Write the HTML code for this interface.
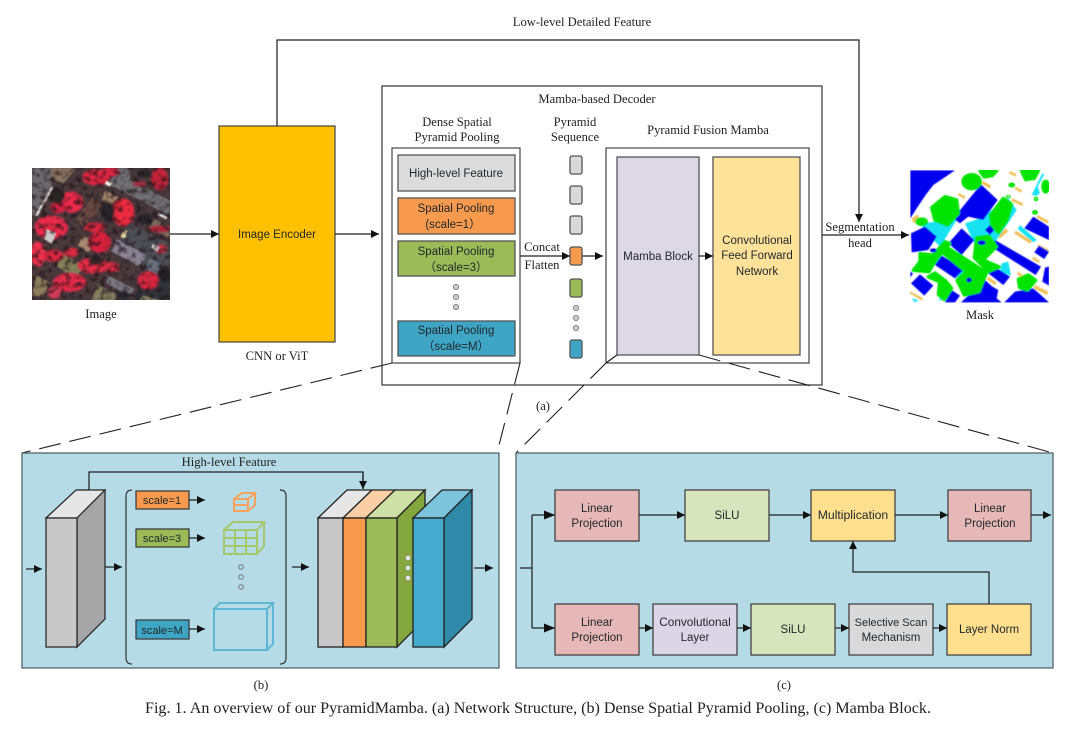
<!DOCTYPE html>
<html><head><meta charset="utf-8">
<style>
html,body{margin:0;padding:0;background:#fff;width:1080px;height:732px;overflow:hidden}
svg{display:block;filter:blur(.3px)}
.s{font-family:"Liberation Serif",serif;font-size:12.6px;fill:#222;text-anchor:middle}
.c{font-family:"Liberation Sans","Noto Sans CJK SC",sans-serif;font-size:11.5px;fill:#22282c;text-anchor:middle}
.l{stroke:#222;stroke-width:1.25;fill:none}
.b{stroke:#555;stroke-width:1.3}
</style></head><body>
<svg width="1080" height="732" viewBox="0 0 1080 732" xmlns="http://www.w3.org/2000/svg">
<defs>
<marker id="a" markerUnits="userSpaceOnUse" markerWidth="10" markerHeight="10" refX="8" refY="4" orient="auto"><path d="M0 0L8 4L0 8z" fill="#111"/></marker>
<marker id="m" markerUnits="userSpaceOnUse" markerWidth="12" markerHeight="10" refX="11" refY="4.5" orient="auto"><path d="M0 0L11 4.5L0 9z" fill="#111"/></marker>
<filter id="sb"><feGaussianBlur stdDeviation="1.4"/></filter>
<filter id="rb"><feGaussianBlur stdDeviation="3"/></filter>
<filter id="spk" x="0" y="0" width="100%" height="100%" color-interpolation-filters="sRGB"><feTurbulence type="fractalNoise" baseFrequency=".17" numOctaves="2" seed="11"/><feColorMatrix values="0 0 0 0 .12 0 0 0 0 .08 0 0 0 0 .1 3.4 0 0 0 -1.55"/><feGaussianBlur stdDeviation=".5"/></filter>
<clipPath id="ci"><rect x="32" y="168" width="138" height="132"/></clipPath>
<clipPath id="cm"><rect x="910" y="170" width="139" height="133"/></clipPath>
</defs>

<!-- aerial image -->
<g clip-path="url(#ci)">
<rect x="32" y="168" width="138" height="132" fill="#4a3a3e"/>
<g transform="translate(28 164) scale(.3333)">
<g filter="url(#sb)">
<polygon points="12,12 70,12 70,70 40,130 12,155" fill="#6d6b6e"/>
<polygon points="70,12 145,12 105,60 70,40" fill="#8a7361"/>
<polygon points="270,12 300,12 310,50 425,110 425,155 240,60" fill="#6f6f73"/>
<polygon points="300,175 425,240 425,300 360,320 270,240" fill="#4e4f54"/>
<polygon points="265,225 360,275 330,305 250,262" fill="#8a8394"/>
<polygon points="365,285 405,300 385,330 350,315" fill="#6b7180"/>
<polygon points="232,80 272,100 240,130 220,110" fill="#a28468"/>
<polygon points="195,100 225,125 165,190 145,160" fill="#6b4c42"/>
<polygon points="165,215 205,235 180,265 150,245" fill="#a98a72"/>
<polygon points="105,270 170,305 140,345 85,305" fill="#83805a"/>
<polygon points="25,335 65,355 45,400 12,395" fill="#8e7e5c"/>
<polygon points="210,360 270,395 255,410 190,410" fill="#85805f"/>
<polygon points="240,335 320,375 300,400 235,355" fill="#77747f"/>
<polygon points="340,340 425,345 425,410 320,410" fill="#33353a"/>
<polygon points="380,165 425,190 425,225 360,190" fill="#7a6a5c"/>
<polygon points="345,395 400,410 335,410" fill="#8a8066"/>
</g>
<g filter="url(#rb)">
<ellipse cx="130" cy="115" rx="36" ry="32" fill="#ee2b4c"/>
<ellipse cx="90" cy="130" rx="22" ry="18" fill="#d9233f"/>
<ellipse cx="205" cy="40" rx="42" ry="24" fill="#e2263f"/>
<ellipse cx="245" cy="24" rx="30" ry="14" fill="#dc2540"/>
<ellipse cx="285" cy="145" rx="34" ry="42" fill="#ee2b3f"/>
<ellipse cx="395" cy="45" rx="26" ry="34" fill="#c22238"/>
<ellipse cx="70" cy="190" rx="50" ry="36" fill="#ea2c4a"/>
<ellipse cx="30" cy="270" rx="22" ry="38" fill="#ef3050"/>
<ellipse cx="75" cy="275" rx="32" ry="18" fill="#d9283f"/>
<ellipse cx="130" cy="265" rx="22" ry="14" fill="#e02a42"/>
<ellipse cx="215" cy="235" rx="34" ry="32" fill="#d8243c"/>
<ellipse cx="195" cy="305" rx="46" ry="24" fill="#e52a44"/>
<ellipse cx="125" cy="355" rx="50" ry="28" fill="#e62c48"/>
<ellipse cx="80" cy="385" rx="20" ry="20" fill="#d23a52"/>
<ellipse cx="200" cy="190" rx="32" ry="15" fill="#da283f"/>
<ellipse cx="360" cy="350" rx="32" ry="28" fill="#da2840"/>
<ellipse cx="395" cy="195" rx="32" ry="10" fill="#b0233a"/>
<ellipse cx="400" cy="255" rx="18" ry="14" fill="#c83448"/>
<ellipse cx="250" cy="310" rx="24" ry="16" fill="#dc2a42"/>
<ellipse cx="335" cy="60" rx="22" ry="8" fill="#a82a3c"/>
<ellipse cx="85" cy="95" rx="26" ry="24" fill="#2c2628"/>
<ellipse cx="240" cy="145" rx="20" ry="30" fill="#26282a"/>
<ellipse cx="205" cy="290" rx="24" ry="14" fill="#33272a"/>
<ellipse cx="350" cy="165" rx="24" ry="16" fill="#26272a"/>
<ellipse cx="410" cy="330" rx="18" ry="24" fill="#222326"/>
<ellipse cx="285" cy="395" rx="22" ry="12" fill="#26282a"/>
<ellipse cx="350" cy="28" rx="24" ry="14" fill="#2a2a2c"/>
</g>
<g filter="url(#sb)">
<polygon points="55,195 85,208 72,240 48,225" fill="#cfcaca"/>
<polygon points="235,50 252,58 245,68 230,60" fill="#f2eee6"/>
<polygon points="20,155 70,68 76,72 28,158" fill="#e4e0dc"/>
<polygon points="392,145 420,158 414,166 388,152" fill="#e8e4e4"/>
<polygon points="283,205 298,198 292,222 278,220" fill="#e6d9a0"/>
<polygon points="375,240 395,250 388,262 370,250" fill="#eee"/>
</g>
</g>
<rect x="32" y="168" width="138" height="132" filter="url(#spk)" opacity=".7"/>
</g>

<!-- mask -->
<g clip-path="url(#cm)">
<rect x="910" y="170" width="139" height="133" fill="#fff"/>
<g transform="translate(905 165) scale(.3333)">
<g filter="url(#sb)">
<g fill="#f0c25a"><polygon points="235,48 258,62 254,70 230,56"/><polygon points="162,84 182,95 178,102 158,90"/><polygon points="315,18 335,27 331,35 311,25"/><polygon points="332,65 352,76 347,83 328,71"/><polygon points="322,100 355,115 351,123 318,107"/><polygon points="398,150 432,168 428,176 394,158"/><polygon points="332,197 382,228 375,236 328,206"/><polygon points="278,205 305,190 309,200 283,222"/><polygon points="20,160 38,148 42,158 26,176"/><polygon points="14,378 55,400 50,406 12,384"/><polygon points="390,360 430,380 426,390 386,370"/><polygon points="385,275 405,288 401,294 381,282"/><polygon points="250,335 275,352 270,360 245,344"/><polygon points="252,380 275,395 270,402 248,388"/><polygon points="340,320 360,335 355,340 336,328"/><polygon points="400,238 432,255 430,262 396,245"/></g>
<g fill="#12e2f2"><polygon points="180,175 225,160 310,100 335,135 275,225 210,240"/><polygon points="45,175 155,165 105,245 65,205"/><polygon points="95,265 235,345 215,372 85,290"/><polygon points="290,295 310,290 318,332 285,322"/><polygon points="380,90 412,25 418,28 398,65 405,85 395,92"/><polygon points="20,400 40,405 30,412"/><polygon points="345,180 395,225 385,232 338,192"/><polygon points="100,375 120,385 105,410"/></g>
<g fill="#0000ee">
<polygon points="16,16 150,16 85,60 62,90 35,130 16,160"/>
<polygon points="145,160 228,58 278,105 235,165 190,155 165,175"/>
<polygon points="18,205 60,185 95,215 70,255 20,262"/>
<polygon points="130,235 170,190 208,225 170,270"/>
<polygon points="90,300 110,272 178,312 150,340"/>
<polygon points="18,355 45,328 85,362 58,392"/>
<polygon points="258,245 270,225 408,305 392,330"/>
<polygon points="358,190 385,155 432,185 432,225"/>
<polygon points="388,262 402,242 432,260 418,282"/>
<polygon points="250,325 272,307 315,335 295,360"/>
<polygon points="168,412 240,345 262,365 280,375 275,400 290,412"/>
<polygon points="298,412 330,380 385,370 432,412"/>
<polygon points="120,412 140,375 165,392 150,412"/>
<polygon points="420,308 432,305 432,362 412,350"/>
<polygon points="240,195 255,180 268,195 255,210"/>
<polygon points="16,320 24,325 16,338"/>
</g>
<g fill="#00e400" stroke="#00e400" stroke-width="10" stroke-linejoin="round">
<ellipse cx="200" cy="50" rx="26" ry="21"/><polygon points="225,18 275,18 262,32 238,36"/><polygon points="350,18 400,18 388,40 362,44"/><ellipse cx="422" cy="65" rx="8" ry="16"/>
<polygon points="80,128 120,95 155,105 160,145 128,180 90,166"/><ellipse cx="50" cy="170" rx="14" ry="8"/>
<polygon points="257,150 295,100 320,118 305,168 280,203 260,178"/>
<polygon points="215,218 252,214 274,245 235,285 283,306 250,320 208,278"/>
<polygon points="45,266 85,270 120,230 134,236 92,286 72,320 25,316 45,290"/>
<polygon points="130,250 200,294 244,324 222,380 178,390 156,345 184,320 115,265"/>
<polygon points="90,324 122,348 140,370 118,404 100,388 104,350 70,336"/>
<polygon points="340,343 370,330 392,346 368,375 344,368"/>
<ellipse cx="320" cy="60" rx="5" ry="2"/><ellipse cx="390" cy="142" rx="4" ry="2"/><ellipse cx="393" cy="102" rx="2" ry="2"/><ellipse cx="310" cy="95" rx="2" ry="1"/>
</g>
<g fill="#0000ee"><ellipse cx="230" cy="233" rx="12" ry="7"/><ellipse cx="192" cy="345" rx="8" ry="7"/><ellipse cx="85" cy="256" rx="10" ry="6"/></g>
</g>
</g>
</g>

<!-- main blocks -->
<rect x="219" y="126" width="116" height="216" fill="#ffc000" stroke="#444" stroke-width="1.2"/>
<text class="c" x="277" y="238">Image Encoder</text>
<rect x="382" y="86" width="440" height="299" fill="#fff" stroke="#333" stroke-width="1.2"/>
<rect x="392" y="148" width="128" height="215" fill="#fff" stroke="#444" stroke-width="1.2"/>
<rect x="606" y="148" width="203" height="215" fill="#fff" stroke="#444" stroke-width="1.2"/>

<rect x="398" y="155" width="117" height="36" fill="#dcdcdc" class="b"/>
<text class="c" x="456" y="177">High-level Feature</text>
<rect x="398" y="198" width="117" height="36" fill="#f79a4d" class="b"/>
<text class="c" x="456" y="212">Spatial Pooling</text><text class="c" x="453" y="228">(scale=1）</text>
<rect x="398" y="241" width="117" height="35" fill="#9bbb59" class="b"/>
<text class="c" x="456" y="255">Spatial Pooling</text><text class="c" x="456" y="271">（scale=3）</text>
<rect x="398" y="321" width="117" height="35" fill="#3fa5c5" class="b"/>
<text class="c" x="456" y="334">Spatial Pooling</text><text class="c" x="456" y="350">（scale=M）</text>
<g fill="#ccc" stroke="#888"><circle cx="456" cy="287" r="2.6"/><circle cx="456" cy="297" r="2.6"/><circle cx="456" cy="307" r="2.6"/></g>

<g class="b">
<rect x="570" y="156" width="12" height="18" rx="2" fill="#d9d9d9"/>
<rect x="570" y="186" width="12" height="18" rx="2" fill="#d9d9d9"/>
<rect x="570" y="216" width="12" height="18" rx="2" fill="#d9d9d9"/>
<rect x="570" y="247" width="12" height="18" rx="2" fill="#f79a4d"/>
<rect x="570" y="279" width="12" height="18" rx="2" fill="#9bbb59"/>
<rect x="570" y="340" width="12" height="18" rx="2" fill="#3fa5c5"/>
</g>
<g fill="#ccc" stroke="#888"><circle cx="576" cy="308" r="2.6"/><circle cx="576" cy="318" r="2.6"/><circle cx="576" cy="328" r="2.6"/></g>

<rect x="617" y="157" width="82" height="198" fill="#dcd8e6" class="b"/>
<text class="c" x="658" y="260">Mamba Block</text>
<rect x="713" y="157" width="87" height="198" fill="#ffe299" class="b"/>
<text class="c" x="757" y="244">Convolutional</text><text class="c" x="757" y="259">Feed Forward</text><text class="c" x="757" y="275">Network</text>

<!-- main connectors -->
<path class="l" d="M277 126V40H859V222" marker-end="url(#a)"/>
<path class="l" d="M170 234H219" marker-end="url(#a)"/>
<path class="l" d="M335 234H379" marker-end="url(#a)"/>
<path class="l" d="M520 256H570" marker-end="url(#a)"/>
<path class="l" d="M582 256H603" marker-end="url(#a)"/>
<path class="l" d="M699 256H713" marker-end="url(#a)"/>
<path class="l" d="M822 235H909" marker-end="url(#a)"/>
<path class="l" d="M606 363L617 355"/>
<g style="stroke:#222;stroke-width:1.1;fill:none" stroke-dasharray="22 9">
<path d="M392 363L22 453"/>
<path d="M520 363L497 453"/>
<path d="M606 363L516 453"/>
<path d="M699 355L1053 453"/>
</g>

<!-- serif labels -->
<text class="s" x="582" y="26">Low-level Detailed Feature</text>
<text class="s" x="597" y="103">Mamba-based Decoder</text>
<text class="s" x="457" y="126">Dense Spatial</text><text class="s" x="457" y="141">Pyramid Pooling</text>
<text class="s" x="575" y="126">Pyramid</text><text class="s" x="575" y="141">Sequence</text>
<text class="s" x="708" y="134">Pyramid Fusion Mamba</text>
<text class="s" x="542" y="251">Concat</text><text class="s" x="542" y="269">Flatten</text>
<text class="s" x="860" y="231">Segmentation</text><text class="s" x="860" y="247">head</text>
<text class="s" x="101" y="318">Image</text>
<text class="s" x="980" y="319">Mask</text>
<text class="s" x="277" y="360">CNN or ViT</text>
<text class="s" x="543" y="410">(a)</text>
<text class="s" x="261" y="689">(b)</text>
<text class="s" x="784" y="689">(c)</text>
<text class="s" x="538" y="713" style="font-size:15.4px" textLength="786" lengthAdjust="spacingAndGlyphs">Fig. 1. An overview of our PyramidMamba. (a) Network Structure, (b) Dense Spatial Pyramid Pooling, (c) Mamba Block.</text>

<!-- panel b -->
<rect x="22" y="453" width="477" height="215" fill="#b5dbe6" stroke="#4a5a60" stroke-width="1.2"/>
<text class="s" x="229" y="466">High-level Feature</text>
<path class="l" d="M89 490V472H363V489"/>
<g stroke="#222" stroke-width="1.2">
<polygon points="46,518 76,490 105,490 77,518" fill="#e6e6e6"/>
<polygon points="77,518 105,490 105,619 77,647" fill="#a6a6a6"/>
<rect x="46" y="518" width="31" height="129" fill="#c8c8c8"/>
</g>
<path class="l" d="M26 569H42" marker-end="url(#a)"/>
<path class="l" d="M105 567H122" marker-end="url(#a)"/>
<path class="l" d="M292 567H309" marker-end="url(#a)"/>
<path class="l" d="M474 568H493" marker-end="url(#a)"/>
<path d="M132 490Q126 490 126 496V658Q126 664 132 664M280 490Q286 490 286 496V658Q286 664 280 664" fill="none" stroke="#333" stroke-width="1.2"/>
<g stroke="#333" stroke-width="1.2">
<rect x="136" y="491" width="53" height="18" fill="#f79a4d"/>
<rect x="136" y="529" width="53" height="18" fill="#9bbb59"/>
<rect x="136" y="620" width="53" height="19" fill="#3fa5c5"/>
</g>
<text class="c" x="162" y="504" style="font-size:11px">scale=1</text>
<text class="c" x="162" y="542" style="font-size:11px">scale=3</text>
<text class="c" x="162" y="634" style="font-size:11px">scale=M</text>
<path class="l" d="M189 500H205" marker-end="url(#a)"/>
<path class="l" d="M189 538H205" marker-end="url(#a)"/>
<path class="l" d="M189 629H205" marker-end="url(#a)"/>
<g fill="none" stroke="#f7a25e" stroke-width="2">
<rect x="234" y="499" width="14" height="12"/><path d="M234 499L242 493H255L248 499M255 493V505L248 511M234 505H248"/>
</g>
<g fill="none" stroke="#a5c86c" stroke-width="2">
<rect x="224" y="530" width="33" height="24"/><path d="M224 530L233 522H264L257 530M264 522V546L257 554M224 538H257M224 546H257M235 530V554M246 530V554"/>
</g>
<g fill="none" stroke="#5fb7d6" stroke-width="2">
<rect x="214" y="609" width="53" height="41"/><path d="M214 609L220 603H273L267 609M273 603V644L267 650"/>
</g>
<g fill="none" stroke="#777"><circle cx="241" cy="567" r="2.3"/><circle cx="241" cy="577" r="2.3"/><circle cx="241" cy="587" r="2.3"/></g>

<g stroke="#222" stroke-width="1.3">
<polygon points="318,518 347,490 372,490 343,518" fill="#e6e6e6"/>
<polygon points="343,518 372,490 395,490 366,518" fill="#fbcfa6"/>
<polygon points="366,518 395,490 425,490 397,518" fill="#cfe0a6"/>
<polygon points="397,518 425,490 425,619 397,647" fill="#84a63f"/>
<rect x="318" y="518" width="25" height="129" fill="#c8c8c8"/>
<rect x="343" y="518" width="23" height="129" fill="#f79a4d"/>
<rect x="366" y="518" width="31" height="129" fill="#9bbb59"/>
<polygon points="413,518 442,490 472,490 444,518" fill="#7cc4dc"/>
<polygon points="444,518 472,490 472,619 444,647" fill="#2e8aa8"/>
<rect x="413" y="518" width="31" height="129" fill="#45aace"/>
</g>
<path class="l" d="M363 472V489" marker-end="url(#a)"/>
<g fill="#e8e8e8" stroke="#999" stroke-width=".6"><circle cx="408" cy="558" r="2.5"/><circle cx="408" cy="568" r="2.5"/><circle cx="408" cy="578" r="2.5"/></g>

<!-- panel c -->
<rect x="516" y="453" width="537" height="215" fill="#b5dbe6" stroke="#4a5a60" stroke-width="1.2"/>
<g stroke="#444" stroke-width="1.3">
<rect x="555" y="490" width="84" height="51" fill="#e6b8b7"/>
<rect x="685" y="490" width="84" height="51" fill="#d8e4bc"/>
<rect x="811" y="490" width="84" height="51" fill="#ffe08f"/>
<rect x="948" y="490" width="83" height="51" fill="#e6b8b7"/>
<rect x="555" y="604" width="84" height="51" fill="#e6b8b7"/>
<rect x="653" y="604" width="84" height="51" fill="#dcd5e8"/>
<rect x="751" y="604" width="84" height="51" fill="#d8e4bc"/>
<rect x="849" y="604" width="84" height="51" fill="#d9d9d9"/>
<rect x="947" y="604" width="84" height="51" fill="#ffe08f"/>
</g>
<text class="c" x="597" y="512">Linear</text><text class="c" x="597" y="527">Projection</text>
<text class="c" x="727" y="519">SiLU</text>
<text class="c" x="853" y="519" style="font-size:12.2px">Multiplication</text>
<text class="c" x="990" y="512">Linear</text><text class="c" x="990" y="527">Projection</text>
<text class="c" x="597" y="626">Linear</text><text class="c" x="597" y="641">Projection</text>
<text class="c" x="695" y="626" style="font-size:11.8px">Convolutional</text><text class="c" x="695" y="641">Layer</text>
<text class="c" x="793" y="633">SiLU</text>
<text class="c" x="891" y="626" style="font-size:11px">Selective Scan</text><text class="c" x="891" y="641">Mechanism</text>
<text class="c" x="989" y="633">Layer Norm</text>
<path class="l" d="M520 568H532M532 515V628"/>
<path class="l" d="M532 515H555" marker-end="url(#m)"/>
<path class="l" d="M532 628H555" marker-end="url(#m)"/>
<path class="l" d="M639 515H685" marker-end="url(#a)"/>
<path class="l" d="M769 515H811" marker-end="url(#a)"/>
<path class="l" d="M895 515H948" marker-end="url(#a)"/>
<path class="l" d="M1031 515H1051" marker-end="url(#a)"/>
<path class="l" d="M639 628H653" marker-end="url(#a)"/>
<path class="l" d="M737 628H751" marker-end="url(#a)"/>
<path class="l" d="M835 628H849" marker-end="url(#a)"/>
<path class="l" d="M933 628H947" marker-end="url(#a)"/>
<path class="l" d="M989 604V572H853V541" marker-end="url(#a)"/>
</svg>
</body></html>
